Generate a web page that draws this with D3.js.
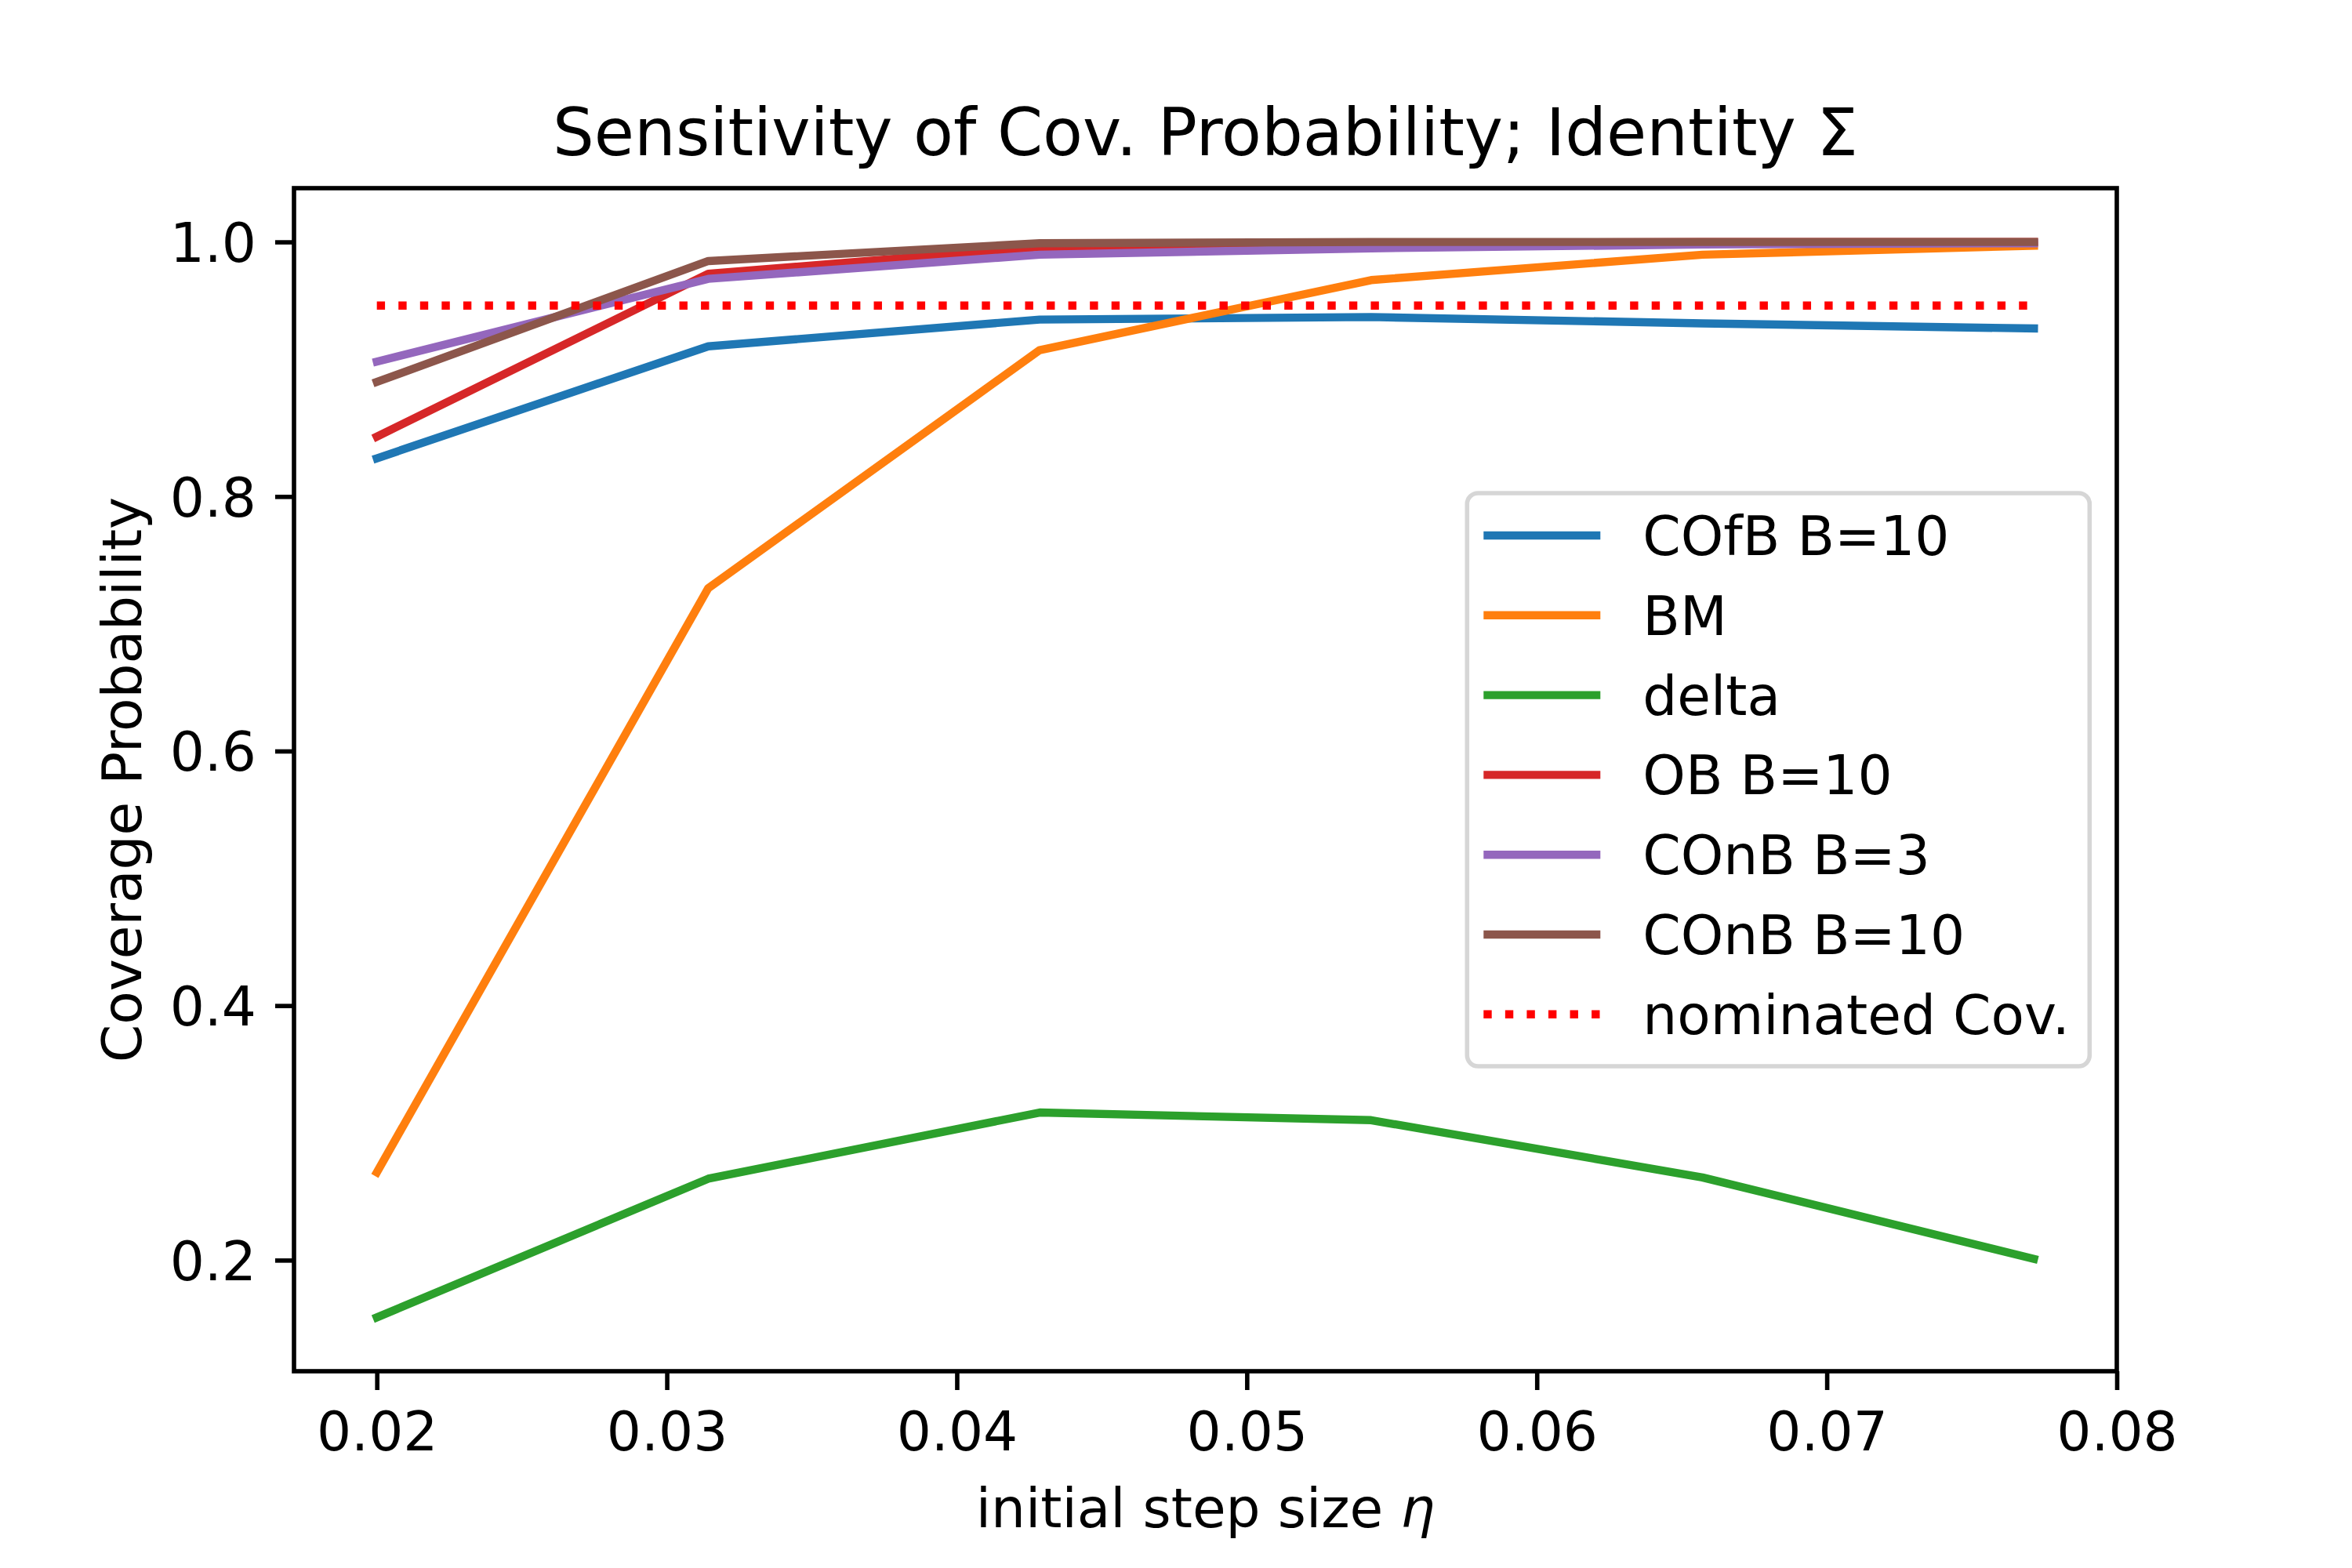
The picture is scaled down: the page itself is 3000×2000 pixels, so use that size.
<!DOCTYPE html>
<html>
<head>
<meta charset="utf-8">
<script src="https://cdn.jsdelivr.net/npm/d3@7"></script>
<style>
  body { margin: 0; background: #fff; }
  text { font-family: "DejaVu Sans", sans-serif; fill: #000; }
</style>
</head>
<body>
<div id="chart"></div>
<script>
// data
var eta = [0.02, 0.031429, 0.042857, 0.054286, 0.065714, 0.077143];
var cofb10 = [0.830, 0.918, 0.939, 0.941, 0.936, 0.932];
var bm = [0.269, 0.728, 0.915, 0.970, 0.990, 0.997];
var delta = [0.155, 0.264, 0.316, 0.310, 0.265, 0.201];
var ob10 = [0.847, 0.975, 0.996, 0.999, 1.000, 1.000];
var conb3 = [0.906, 0.971, 0.990, 0.995, 0.998, 0.999];
var conb10 = [0.890, 0.985, 0.999, 1.000, 1.000, 1.000];
var nominal = 0.95;
var xTicks = [0.02, 0.03, 0.04, 0.05, 0.06, 0.07, 0.08];
var yTicks = [0.2, 0.4, 0.6, 0.8, 1.0];

var seriesNames = ["COfB B=10", "BM", "delta", "OB B=10", "COnB B=3", "COnB B=10"];
var seriesVals = [cofb10, bm, delta, ob10, conb3, conb10];
var colors = ["#1f77b4", "#ff7f0e", "#2ca02c", "#d62728", "#9467bd", "#8c564b"];

// figure layout (3000x2000, matplotlib-ish at 500 dpi)
var W = 3000, H = 2000;
var margin = {top: 240, right: 300, bottom: 251, left: 375};
var width = W - margin.left - margin.right,
    height = H - margin.top - margin.bottom;
var fs = 69.4, lw = 10.4, spineW = 5.6, tickLen = 24, tickPad = 24;

var svg = d3.select("#chart")
  .append("svg")
    .attr("width", W)
    .attr("height", H)
  .append("g")
    .attr("transform", "translate(" + margin.left + "," + margin.top + ")");

// autoscale like matplotlib: 5% margins
var allY = [].concat.apply([], seriesVals).concat([nominal]);
var yMin = d3.min(allY), yMax = d3.max(allY);
var xMin = d3.min(eta), xMax = d3.max(eta);
var x = d3.scaleLinear()
  .domain([xMin - 0.05 * (xMax - xMin), xMax + 0.05 * (xMax - xMin)])
  .range([0, width]);
var y = d3.scaleLinear()
  .domain([yMin - 0.05 * (yMax - yMin), yMax + 0.05 * (yMax - yMin)])
  .range([height, 0]);

var line = d3.line()
  .x(function(d) { return x(d[0]); })
  .y(function(d) { return y(d[1]); });

// series
seriesVals.forEach(function(vals, i) {
  svg.append("path")
    .datum(eta.map(function(e, j) { return [e, vals[j]]; }))
    .attr("d", line)
    .attr("fill", "none")
    .attr("stroke", colors[i])
    .attr("stroke-width", lw)
    .attr("stroke-linejoin", "round")
    .attr("stroke-linecap", "square");
});

// nominal coverage line
svg.append("path")
  .datum([[xMin, nominal], [xMax, nominal]])
  .attr("d", line)
  .attr("fill", "none")
  .attr("stroke", "#ff0000")
  .attr("stroke-width", lw)
  .attr("stroke-dasharray", lw + "," + (lw * 1.65));

// x axis
var xAxis = svg.append("g")
  .attr("transform", "translate(0," + height + ")")
  .call(d3.axisBottom(x).tickValues(xTicks).tickFormat(d3.format(".2f"))
    .tickSize(tickLen).tickPadding(tickPad));
xAxis.select(".domain").remove();
xAxis.selectAll("line").attr("stroke", "#000").attr("stroke-width", spineW);
xAxis.selectAll("text")
  .attr("font-size", fs)
  .attr("font-family", "DejaVu Sans")
  .attr("dy", null)
  .attr("y", tickLen + tickPad)
  .attr("dominant-baseline", "hanging")
  .attr("transform", "translate(0,2)");

// y axis
var yAxis = svg.append("g")
  .call(d3.axisLeft(y).tickValues(yTicks).tickFormat(d3.format(".1f"))
    .tickSize(tickLen).tickPadding(tickPad));
yAxis.select(".domain").remove();
yAxis.selectAll("line").attr("stroke", "#000").attr("stroke-width", spineW);
yAxis.selectAll("text")
  .attr("font-size", fs)
  .attr("font-family", "DejaVu Sans")
  .attr("dy", "0.36em");

// frame
svg.append("rect")
  .attr("width", width)
  .attr("height", height)
  .attr("fill", "none")
  .attr("stroke", "#000")
  .attr("stroke-width", spineW);

// title and labels
svg.append("text")
  .attr("x", width / 2)
  .attr("y", -42)
  .attr("text-anchor", "middle")
  .attr("font-size", 83.3)
  .text("Sensitivity of Cov. Probability; Identity Σ");

var xl = svg.append("text")
  .attr("x", width / 2)
  .attr("y", 1948 - margin.top)
  .attr("text-anchor", "middle")
  .attr("font-size", fs);
xl.append("tspan").text("initial step size ");
xl.append("tspan").attr("font-style", "italic").text("η");

svg.append("text")
  .attr("transform", "translate(" + (180 - margin.left) + "," + (height / 2) + ")rotate(-90)")
  .attr("text-anchor", "middle")
  .attr("font-size", fs)
  .text("Coverage Probability");

// legend (center right)
var legItems = seriesNames.map(function(n, i) { return {name: n, color: colors[i], dash: false}; });
legItems.push({name: "nominated Cov.", color: "#ff0000", dash: true});
var rowH = 101.8, legW = 794, legH = 731;
var legend = svg.append("g")
  .attr("transform", "translate(" + (width - 34.7 - legW) + "," + (height / 2 - legH / 2) + ")");
legend.append("rect")
  .attr("width", legW)
  .attr("height", legH)
  .attr("rx", 14)
  .attr("fill", "#fff")
  .attr("fill-opacity", 0.8)
  .attr("stroke", "#cccccc")
  .attr("stroke-opacity", 0.8)
  .attr("stroke-width", spineW);
var rows = legend.selectAll(".row")
  .data(legItems)
  .enter().append("g")
  .attr("transform", function(d, i) { return "translate(0," + (54 + i * rowH) + ")"; });
rows.append("line")
  .attr("x1", 21).attr("x2", 170)
  .attr("stroke", function(d) { return d.color; })
  .attr("stroke-width", lw)
  .attr("stroke-dasharray", function(d) { return d.dash ? lw + "," + (lw * 1.65) : null; });
rows.append("text")
  .attr("x", 224)
  .attr("dy", "0.36em")
  .attr("font-size", fs)
  .text(function(d) { return d.name; });
</script>
</body>
</html>
